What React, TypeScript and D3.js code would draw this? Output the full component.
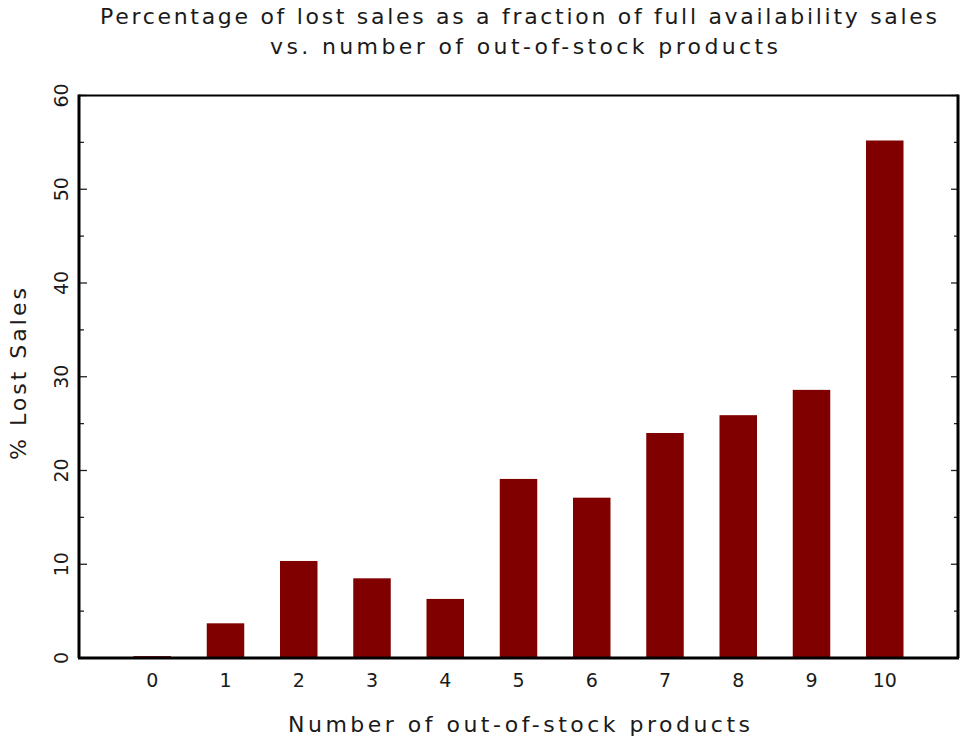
import React from "react";
import * as d3 from "d3";

const categories = ["0", "1", "2", "3", "4", "5", "6", "7", "8", "9", "10"];
const lostSales = [0.2, 3.7, 10.35, 8.5, 6.3, 19.1, 17.1, 24.0, 25.9, 28.6, 55.2];
const yMajorTicks = [0, 10, 20, 30, 40, 50, 60];
const yMinorTicks = [5, 15, 25, 35, 45, 55];

const titleLines = [
  "Percentage of lost sales as a fraction of full availability sales",
  "vs. number of out-of-stock products",
];
const xLabel = "Number of out-of-stock products";
const yLabel = "% Lost Sales";

export default function App() {
  const W = 960, H = 738;
  const left = 79, right = 958, top = 95.5, bottom = 658;
  const x = d3.scaleLinear().domain([-1, 11]).range([left, right]);
  const y = d3.scaleLinear().domain([0, 60]).range([bottom, top]);
  const barW = 37.5;
  const font = "'DejaVu Sans', sans-serif";
  const textColor = "#1a1a1a";

  return (
    <svg width={W} height={H} style={{ position: "absolute", left: 0, top: 0, background: "#fff" }}>
      <rect x={0} y={0} width={W} height={H} fill="#fff" />
      {/* bars */}
      {lostSales.map((v, i) => (
        <rect
          key={i}
          x={x(i) - barW / 2}
          y={y(v)}
          width={barW}
          height={y(0) - y(v)}
          fill="#800000"
        />
      ))}
      {/* ticks */}
      {yMajorTicks.map((t) => (
        <g key={"M" + t}>
          <line x1={left} x2={left + 8} y1={y(t)} y2={y(t)} stroke="#222" strokeWidth={1.3} />
          <line x1={right} x2={right - 7} y1={y(t)} y2={y(t)} stroke="#222" strokeWidth={1.3} />
        </g>
      ))}
      {yMinorTicks.map((t) => (
        <g key={"m" + t}>
          <line x1={left} x2={left + 5} y1={y(t)} y2={y(t)} stroke="#222" strokeWidth={1.3} />
          <line x1={right} x2={right - 4} y1={y(t)} y2={y(t)} stroke="#222" strokeWidth={1.3} />
        </g>
      ))}
      {/* frame */}
      <line x1={left} x2={right} y1={top} y2={top} stroke="#000" strokeWidth={2} />
      <line x1={left - 1} x2={right + 1} y1={bottom} y2={bottom} stroke="#000" strokeWidth={3} />
      <line x1={left} x2={left} y1={top - 1} y2={bottom} stroke="#000" strokeWidth={3} />
      <line x1={right} x2={right} y1={top - 1} y2={bottom} stroke="#000" strokeWidth={3} />
      {/* y tick labels */}
      {yMajorTicks.map((t) => (
        <text
          key={"yl" + t}
          transform={`translate(68,${y(t)}) rotate(-90)`}
          textAnchor="middle"
          fontFamily={font}
          fontSize={19}
          fill={textColor}
        >
          {t}
        </text>
      ))}
      {/* x tick labels */}
      {categories.map((c, i) => (
        <text
          key={"xl" + c}
          x={x(i)}
          y={687}
          textAnchor="middle"
          fontFamily={font}
          fontSize={19}
          fill={textColor}
        >
          {c}
        </text>
      ))}
      {/* axis labels */}
      <text
        x={519}
        y={732}
        textAnchor="middle"
        fontFamily={font}
        fontSize={22}
        fill={textColor}
        textLength={462}
        lengthAdjust="spacing"
      >
        {xLabel}
      </text>
      <text
        transform={`translate(26,374) rotate(-90)`}
        textAnchor="middle"
        fontFamily={font}
        fontSize={22}
        fill={textColor}
        textLength={172}
        lengthAdjust="spacing"
      >
        {yLabel}
      </text>
      {/* title */}
      <text
        x={518.5}
        y={24}
        textAnchor="middle"
        fontFamily={font}
        fontSize={22}
        fill={textColor}
        textLength={837}
        lengthAdjust="spacing"
      >
        {titleLines[0]}
      </text>
      <text
        x={524}
        y={54}
        textAnchor="middle"
        fontFamily={font}
        fontSize={22}
        fill={textColor}
        textLength={508}
        lengthAdjust="spacing"
      >
        {titleLines[1]}
      </text>
    </svg>
  );
}
